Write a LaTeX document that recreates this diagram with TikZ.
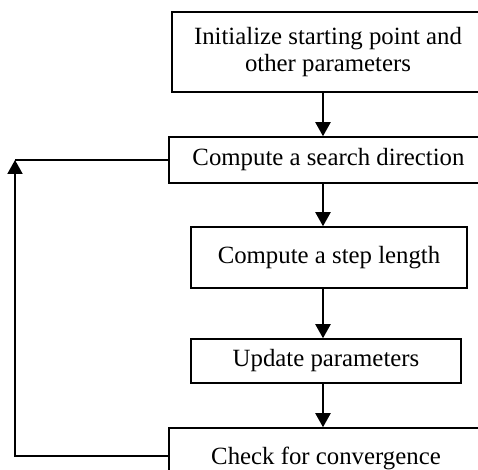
\documentclass[tikz,border=0pt]{standalone}
\usepackage{fontspec}
\setmainfont{Liberation Serif}
\usetikzlibrary{arrows.meta}
\begin{document}
\begin{tikzpicture}[x=0.5pt,y=-0.5pt,
  box/.style={draw=black,line width=0.75pt,inner sep=0pt,align=center,
    font=\fontsize{12.4}{13.6}\selectfont},
  arr/.style={line width=1pt,-{Triangle[length=7pt,width=7.5pt]}},
  conn/.style={line width=1pt}]
\useasboundingbox (0,0) rectangle (478,470);
\clip (0,0) rectangle (478,470);
\fill[white] (0,0) rectangle (478,470);
\node[box,minimum width=156pt,minimum height=40pt] (b1) at (328,52)
  {Initialize starting point and\\other parameters};
\node[box,minimum width=159.5pt,minimum height=23pt] (b2) at (328.5,160)
  {Compute a search direction};
\node[box,minimum width=138pt,minimum height=30.5pt] (b3) at (329,257.5)
  {Compute a step length};
\node[box,minimum width=135pt,minimum height=22pt] (b4) at (326,361)
  {Update parameters};
\node[box,minimum width=157pt,minimum height=30pt] (b5) at (326,458)
  {Check for convergence};
\coordinate (ax) at (323,0);
\coordinate (fb) at (15,456);
\coordinate (ft) at (15,160);
\draw[arr] (b1.south -| ax) -- (b2.north -| ax);
\draw[arr] (b2.south -| ax) -- (b3.north -| ax);
\draw[arr] (b3.south -| ax) -- (b4.north -| ax);
\draw[arr] (b4.south -| ax) -- (b5.north -| ax);
\draw[arr] (b5.west |- fb) -- (fb) -- (ft);
\draw[conn] (ft) -- (b2.west);
\end{tikzpicture}
\end{document}
